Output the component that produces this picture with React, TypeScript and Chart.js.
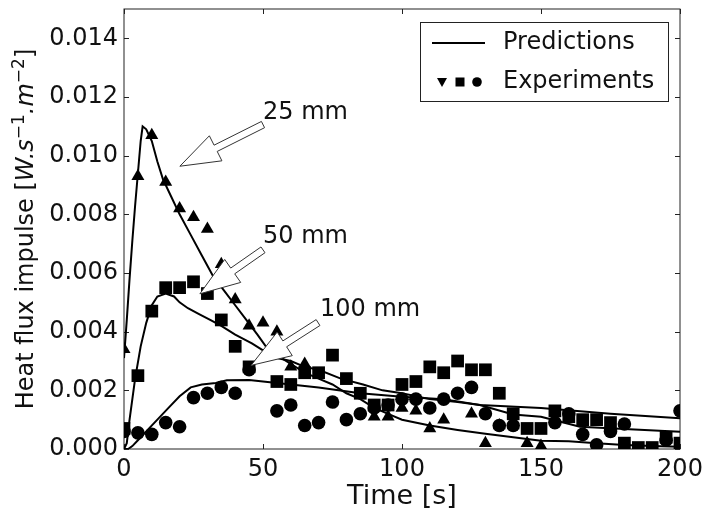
import React, { useEffect, useRef } from "react";
import { Chart, registerables } from "chart.js";
Chart.register(...registerables);

const FAMILY = '"DejaVu Sans", "Liberation Sans", sans-serif';
const INK = "#111111";

// ---- ticks ----
const xTicks = [0, 50, 100, 150, 200];
const xTickLabels = ["0", "50", "100", "150", "200"];
const yTicks = [0, 0.002, 0.004, 0.006, 0.008, 0.01, 0.012, 0.014];
const yTickLabels = ["0.000", "0.002", "0.004", "0.006", "0.008", "0.010", "0.012", "0.014"];

// ---- predictions (lines) ----
const pred25T = [0, 1, 2, 3, 4, 5, 6, 6.7, 8, 10, 12, 14, 17, 20, 24, 28, 32, 36, 40, 44, 48, 51, 55, 60, 65, 70, 75, 80, 85, 90, 95, 100, 110, 120, 130, 140, 150, 160, 170, 180, 190, 200];
const pred25Y = [0.0031, 0.0044, 0.0058, 0.0071, 0.0083, 0.0094, 0.0105, 0.011, 0.0109, 0.0105, 0.0098, 0.0092, 0.0086, 0.008, 0.0073, 0.0066, 0.0059, 0.0054, 0.0049, 0.0044, 0.0039, 0.0035, 0.0032, 0.0029, 0.0026, 0.0024, 0.0022, 0.0019, 0.0017, 0.0014, 0.0012, 0.001, 0.0008, 0.00065, 0.00052, 0.0004, 0.00028, 0.00026, 0.0002, 0.00014, 0.0001, 0.00008];

const pred50T = [0, 1, 2, 4, 6, 8, 10, 12, 15, 18, 20, 23, 27, 31, 35, 40, 46, 51, 55, 60, 65, 70, 78, 86, 93, 100, 110, 120, 128, 140, 150, 164, 180, 200];
const pred50Y = [0, 0.0002, 0.001, 0.0024, 0.0035, 0.0043, 0.0049, 0.0052, 0.0053, 0.0052, 0.005, 0.0048, 0.0046, 0.0044, 0.0042, 0.0039, 0.0036, 0.0033, 0.0031, 0.003, 0.0028, 0.0027, 0.0024, 0.0022, 0.002, 0.0019, 0.0017, 0.0016, 0.0015, 0.00118, 0.0011, 0.00076, 0.00068, 0.00059];

const pred100T = [0, 1.5, 3, 5, 8, 12, 16, 20, 24, 28, 33, 37, 45, 50, 60, 70, 85, 100, 115, 128, 150, 175, 200];
const pred100Y = [0, 0, 0.0001, 0.0003, 0.0006, 0.001, 0.0014, 0.0018, 0.0021, 0.0022, 0.00225, 0.00234, 0.00235, 0.0023, 0.0022, 0.0021, 0.0019, 0.00178, 0.0017, 0.0015, 0.0014, 0.0012, 0.00105];

// ---- experiments (markers) ----
const exp25T = [0, 5, 10, 15, 20, 25, 30, 35, 40, 45, 50, 55, 60, 65, 90, 95, 100, 105, 110, 115, 125, 130, 135, 140, 145, 150];
const exp25Y = [0.0034, 0.0093, 0.0107, 0.0091, 0.0082, 0.0079, 0.0075, 0.0063, 0.0051, 0.0042, 0.0043, 0.004, 0.0028, 0.0029, 0.0011, 0.0011, 0.0014, 0.0013, 0.0007, 0.001, 0.0012, 0.0002, 0.0008, 0.0008, 0.0002, 0.0001];

const exp50T = [0, 5, 10, 15, 20, 25, 30, 35, 40, 45, 55, 60, 65, 70, 75, 80, 85, 90, 95, 100, 105, 110, 115, 120, 125, 130, 135, 140, 145, 150, 155, 160, 165, 170, 175, 180, 185, 190, 195, 200];
const exp50Y = [0.0007, 0.0025, 0.0047, 0.0055, 0.0055, 0.0057, 0.0053, 0.0044, 0.0035, 0.0028, 0.0023, 0.0022, 0.0026, 0.0026, 0.0032, 0.0024, 0.0019, 0.0015, 0.0015, 0.0022, 0.0023, 0.0028, 0.0026, 0.003, 0.0027, 0.0027, 0.0019, 0.0012, 0.0007, 0.0007, 0.0013, 0.0011, 0.001, 0.001, 0.0009, 0.0002, 0.00005, 0.00005, 0.0004, 0.0002];

const exp100T = [0, 5, 10, 15, 20, 25, 30, 35, 40, 45, 55, 60, 65, 70, 75, 80, 85, 90, 95, 100, 105, 110, 115, 120, 125, 130, 135, 140, 155, 160, 165, 170, 175, 180, 195, 200];
const exp100Y = [0.0006, 0.00055, 0.0005, 0.0009, 0.00076, 0.00175, 0.0019, 0.0021, 0.0019, 0.0027, 0.0013, 0.0015, 0.0008, 0.0009, 0.0016, 0.001, 0.0012, 0.0014, 0.0015, 0.0017, 0.0017, 0.0014, 0.0017, 0.0019, 0.0021, 0.0012, 0.0008, 0.0008, 0.0009, 0.0012, 0.0005, 0.00014, 0.0006, 0.00085, 0.0003, 0.0013];

// ---- annotations (arrows with labels), in data coordinates ----
const annLabels = ["25 mm", "50 mm", "100 mm"];
const annTextT = [50, 50, 70.5];
const annTextY = [0.01147, 0.00723, 0.00475];
const annTailT = [50, 50, 69.8];
const annTailY = [0.01106, 0.00679, 0.00431];
const annTipT = [20.1, 27.3, 45.7];
const annTipY = [0.00964, 0.00529, 0.00285];

const legendLabels = ["Predictions", "Experiments"];
const xTitle = "Time [s]";
const yTitleParts = [
  { t: "Heat flux impulse ", it: false, sup: false },
  { t: "[", it: false, sup: false },
  { t: "W.s", it: true, sup: false },
  { t: "\u22121", it: false, sup: true },
  { t: ".m", it: true, sup: false },
  { t: "\u22122", it: false, sup: true },
  { t: "]", it: false, sup: false },
];

const toPts = (ts: number[], ys: number[]) => ts.map((t, i) => ({ x: t, y: ys[i] }));

function drawArrow(ctx: CanvasRenderingContext2D, x0: number, y0: number, x1: number, y1: number) {
  const dx = x1 - x0, dy = y1 - y0;
  const L = Math.hypot(dx, dy);
  const ux = dx / L, uy = dy / L;
  const nx = -uy, ny = ux;
  const hl = 40, hw = 14, sw = 3.5;
  const bx = x1 - ux * hl, by = y1 - uy * hl;
  ctx.beginPath();
  ctx.moveTo(x0 + nx * sw, y0 + ny * sw);
  ctx.lineTo(bx + nx * sw, by + ny * sw);
  ctx.lineTo(bx + nx * hw, by + ny * hw);
  ctx.lineTo(x1, y1);
  ctx.lineTo(bx - nx * hw, by - ny * hw);
  ctx.lineTo(bx - nx * sw, by - ny * sw);
  ctx.lineTo(x0 - nx * sw, y0 - ny * sw);
  ctx.closePath();
  ctx.fillStyle = "#ffffff";
  ctx.fill();
  ctx.lineWidth = 1;
  ctx.strokeStyle = "#333333";
  ctx.stroke();
}

const decorPlugin = {
  id: "decor",
  beforeDatasetsDraw(chart: any) {
    const { ctx, chartArea: a, scales } = chart;
    ctx.save();
    ctx.strokeStyle = "#222222";
    ctx.lineWidth = 1;
    ctx.strokeRect(a.left, a.top, a.right - a.left, a.bottom - a.top);
    const tl = 5;
    ctx.beginPath();
    xTicks.forEach((v) => {
      const px = Math.round(scales.x.getPixelForValue(v)) + 0.5;
      ctx.moveTo(px, a.bottom); ctx.lineTo(px, a.bottom - tl);
      ctx.moveTo(px, a.top); ctx.lineTo(px, a.top + tl);
    });
    yTicks.forEach((v) => {
      const py = Math.round(scales.y.getPixelForValue(v)) + 0.5;
      ctx.moveTo(a.left, py); ctx.lineTo(a.left + tl, py);
      ctx.moveTo(a.right, py); ctx.lineTo(a.right - tl, py);
    });
    ctx.stroke();
    ctx.restore();
  },
  afterDatasetsDraw(chart: any) {
    const { ctx, chartArea: a, scales } = chart;
    const X = (v: number) => scales.x.getPixelForValue(v);
    const Y = (v: number) => scales.y.getPixelForValue(v);
    ctx.save();
    // arrows + labels
    annLabels.forEach((lab, i) => {
      drawArrow(ctx, X(annTailT[i]), Y(annTailY[i]), X(annTipT[i]), Y(annTipY[i]));
      ctx.fillStyle = INK;
      ctx.font = `24px ${FAMILY}`;
      ctx.textAlign = "left";
      ctx.textBaseline = "middle";
      ctx.fillText(lab, X(annTextT[i]), Y(annTextY[i]));
    });

    // legend
    const lx = a.right - 260, ly = a.top + 13, lw = 248, lh = 79;
    ctx.fillStyle = "#ffffff";
    ctx.fillRect(lx, ly, lw, lh);
    ctx.strokeStyle = "#222222";
    ctx.lineWidth = 1;
    ctx.strokeRect(lx + 0.5, ly + 0.5, lw, lh);
    const r1 = ly + 21, r2 = ly + 60;
    ctx.beginPath();
    ctx.lineWidth = 2;
    ctx.strokeStyle = "#000000";
    ctx.moveTo(lx + 12, r1); ctx.lineTo(lx + 65, r1);
    ctx.stroke();
    ctx.fillStyle = "#000000";
    // down triangle
    ctx.beginPath();
    ctx.moveTo(lx + 17, r2 - 4); ctx.lineTo(lx + 27, r2 - 4); ctx.lineTo(lx + 22, r2 + 5);
    ctx.closePath(); ctx.fill();
    // square
    ctx.fillRect(lx + 35.5, r2 - 4.5, 9, 9);
    // circle
    ctx.beginPath(); ctx.arc(lx + 57, r2, 4.8, 0, Math.PI * 2); ctx.fill();
    ctx.fillStyle = INK;
    ctx.font = `24px ${FAMILY}`;
    ctx.textAlign = "left";
    ctx.textBaseline = "middle";
    ctx.fillText(legendLabels[0], lx + 83, r1);
    ctx.fillText(legendLabels[1], lx + 83, r2);

    // x title
    ctx.font = `27px ${FAMILY}`;
    ctx.textAlign = "center";
    ctx.textBaseline = "alphabetic";
    ctx.fillText(xTitle, (a.left + a.right) / 2, a.bottom + 55);

    // y title (rotated, with superscripts)
    const fontFor = (p: any) => `${p.it ? "italic " : ""}${p.sup ? 17 : 24}px ${FAMILY}`;
    let total = 0;
    yTitleParts.forEach((p) => { ctx.font = fontFor(p); total += ctx.measureText(p.t).width; });
    ctx.translate(a.left - 91, (a.top + a.bottom) / 2 + total / 2);
    ctx.rotate(-Math.PI / 2);
    ctx.textAlign = "left";
    let x = 0;
    yTitleParts.forEach((p) => {
      ctx.font = fontFor(p);
      ctx.fillText(p.t, x, p.sup ? -9 : 0);
      x += ctx.measureText(p.t).width;
    });
    ctx.restore();
  },
};

export default function App() {
  const ref = useRef<HTMLCanvasElement>(null);
  useEffect(() => {
    const lineDs = (ts: number[], ys: number[]) => ({
      data: toPts(ts, ys),
      showLine: true,
      borderColor: "#000000",
      borderWidth: 2,
      pointRadius: 0,
      tension: 0,
      clip: 0,
    });
    const markDs = (ts: number[], ys: number[], style: string, r: number) => ({
      data: toPts(ts, ys),
      showLine: false,
      pointStyle: style,
      pointRadius: r,
      backgroundColor: "#000000",
      borderColor: "#000000",
      borderWidth: 0,
      clip: 0,
    });
    const chart = new Chart(ref.current as HTMLCanvasElement, {
      type: "scatter",
      data: {
        datasets: [
          lineDs(pred25T, pred25Y),
          lineDs(pred50T, pred50Y),
          lineDs(pred100T, pred100Y),
          markDs(exp25T, exp25Y, "triangle", 7.5),
          markDs(exp50T, exp50Y, "rect", 9),
          markDs(exp100T, exp100Y, "circle", 6.8),
        ] as any,
      },
      options: {
        animation: false,
        responsive: false,
        devicePixelRatio: 1,
        layout: { padding: { top: 7, right: 24, left: 0, bottom: 0 } },
        plugins: { legend: { display: false }, tooltip: { enabled: false } },
        scales: {
          x: {
            type: "linear",
            min: 0,
            max: 200,
            afterFit: (s: any) => {
              s.height = 71;
              s.paddingLeft = 0; s.paddingRight = 0; s.paddingTop = 0; s.paddingBottom = 0;
            },
            afterBuildTicks: (s: any) => { s.ticks = xTicks.map((v) => ({ value: v })); },
            grid: { display: false, drawTicks: false },
            border: { display: false },
            ticks: {
              font: { family: FAMILY, size: 24 },
              color: INK,
              padding: 6,
              maxRotation: 0,
              autoSkip: false,
              callback: (_v: any, i: number) => xTickLabels[i],
            },
          },
          y: {
            type: "linear",
            min: 0,
            max: 0.015,
            afterFit: (s: any) => {
              s.width = 124;
              s.paddingLeft = 0; s.paddingRight = 0; s.paddingTop = 0; s.paddingBottom = 0;
            },
            afterBuildTicks: (s: any) => { s.ticks = yTicks.map((v) => ({ value: v })); },
            grid: { display: false, drawTicks: false },
            border: { display: false },
            ticks: {
              font: { family: FAMILY, size: 24 },
              color: INK,
              padding: 6,
              autoSkip: false,
              callback: (_v: any, i: number) => yTickLabels[i],
            },
          },
        },
      } as any,
      plugins: [decorPlugin],
    });
    return () => chart.destroy();
  }, []);
  return (
    <canvas
      ref={ref}
      width={704}
      height={520}
      style={{ position: "absolute", left: 0, top: 0, display: "block" }}
    />
  );
}
